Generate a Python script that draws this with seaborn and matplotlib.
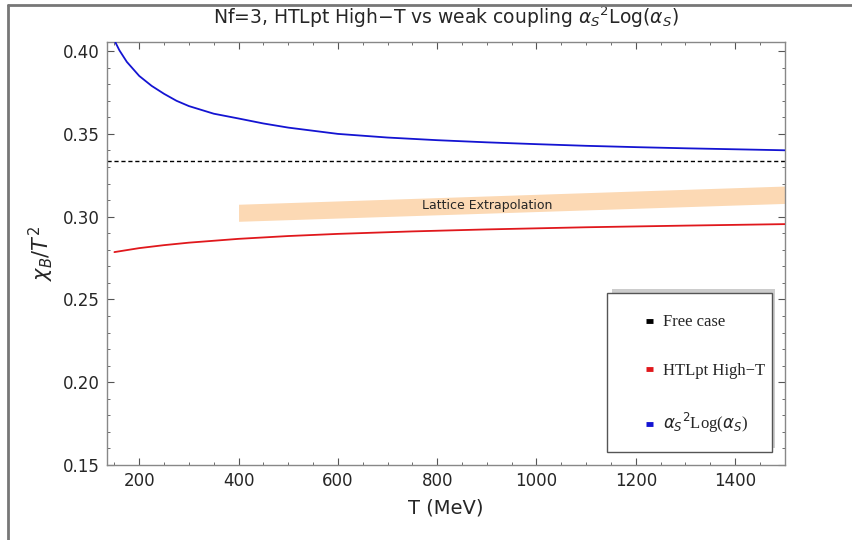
import numpy as np
import pandas as pd
import matplotlib
matplotlib.use("Agg")
import matplotlib.pyplot as plt
import seaborn as sns
from matplotlib.lines import Line2D
from matplotlib.patches import Rectangle
from matplotlib.ticker import MultipleLocator, FormatStrFormatter

# values
temp_blue = [150, 160, 175, 200, 225, 250, 275, 300, 350, 400, 450, 500, 600,
             700, 800, 900, 1000, 1100, 1200, 1300, 1400, 1500]
weak_coupling = [0.4065, 0.4005, 0.3935, 0.3850, 0.3790, 0.3742, 0.3700, 0.3668,
                 0.3622, 0.3593, 0.3563, 0.3538, 0.3500, 0.3478, 0.3462, 0.3449,
                 0.3438, 0.3428, 0.3420, 0.3413, 0.3407, 0.3401]

temp_red = [150, 200, 250, 300, 400, 500, 600, 750, 900, 1100, 1300, 1500]
htlpt_high_t = [0.2786, 0.2810, 0.2828, 0.2843, 0.2866, 0.2883, 0.2896, 0.2911,
                0.2923, 0.2936, 0.2946, 0.2955]

free_case = 1 / 3

temp_lattice = [400, 1500]
lattice_low = [0.2972, 0.3080]
lattice_high = [0.3075, 0.3185]

legend_labels = ["Free case", "HTLpt High\u2212T", r"$\alpha_S{}^2$Log($\alpha_S$)"]
legend_colors = ["black", "#e0181c", "#1414d2"]

sns.set_style("ticks")
plt.rcParams["font.family"] = ["DejaVu Sans"]

fig = plt.figure(figsize=(8.53, 5.40), dpi=100)
ax = fig.add_axes([0.1254, 0.1389, 0.7946, 0.7833])

df_blue = pd.DataFrame({"T": temp_blue, "chi": weak_coupling})
df_red = pd.DataFrame({"T": temp_red, "chi": htlpt_high_t})

# lattice band
ax.fill_between(temp_lattice, lattice_low, lattice_high, color="#fcd9b4", lw=0, zorder=1)
ax.text(900, 0.3068, "Lattice Extrapolation", fontsize=9, ha="center", va="center", zorder=2)

ax.axhline(free_case, color="black", lw=1.0, ls=(0, (3, 2)), zorder=2)
sns.lineplot(data=df_red, x="T", y="chi", ax=ax, color=legend_colors[1], lw=1.3, zorder=3)
sns.lineplot(data=df_blue, x="T", y="chi", ax=ax, color=legend_colors[2], lw=1.3, zorder=3)

ax.set_xlim(135, 1500)
ax.set_ylim(0.15, 0.4055)
ax.xaxis.set_major_locator(MultipleLocator(200))
ax.xaxis.set_minor_locator(MultipleLocator(50))
ax.yaxis.set_major_locator(MultipleLocator(0.05))
ax.yaxis.set_minor_locator(MultipleLocator(0.01))
ax.yaxis.set_major_formatter(FormatStrFormatter("%.2f"))
ax.tick_params(which="both", direction="in", top=True, right=True, color="#555555")
ax.tick_params(which="major", length=5, width=0.8, labelsize=12, pad=5)
ax.tick_params(which="minor", length=2.5, width=0.6)
for s in ax.spines.values():
    s.set_color("#888888")
    s.set_linewidth(1.0)

ax.set_xlabel("T (MeV)", fontsize=14, labelpad=6)
ax.set_ylabel(r"$\chi_B/T^2$", fontsize=15, labelpad=5)
ax.set_title(r"Nf=3, HTLpt High$-$T vs weak coupling $\alpha_S{}^2$Log($\alpha_S$)",
             fontsize=13.5, pad=13)

# legend box with shadow (drawn by hand, as in the reference)
bx0, by0, bw, bh = 0.7375, 0.0307, 0.2434, 0.3759
ax.add_patch(Rectangle((bx0 + 0.0074, by0 + 0.0095), bw - 0.003, bh, transform=ax.transAxes,
                       facecolor="#cccccc", edgecolor="none", zorder=4))
ax.add_patch(Rectangle((bx0, by0), bw, bh, transform=ax.transAxes,
                       facecolor="white", edgecolor="#555555", lw=1.0, zorder=5))
handles = [Line2D([], [], color=c, lw=3.5, solid_capstyle="butt") for c in legend_colors]
leg = ax.legend(handles, legend_labels, loc="center left", bbox_to_anchor=(0.773, 0.213),
                frameon=False, handlelength=0.45, handletextpad=0.6, labelspacing=1.95,
                prop={"family": "Liberation Serif", "size": 12})
leg.set_zorder(6)

# outer frame lines of the original image
fig.add_artist(Line2D([0.009, 1.0], [0.991, 0.991], color="#777777", lw=2, transform=fig.transFigure))
fig.add_artist(Line2D([0.009, 0.009], [0.0, 0.991], color="#777777", lw=2, transform=fig.transFigure))

fig.savefig("out.png", dpi=100)
